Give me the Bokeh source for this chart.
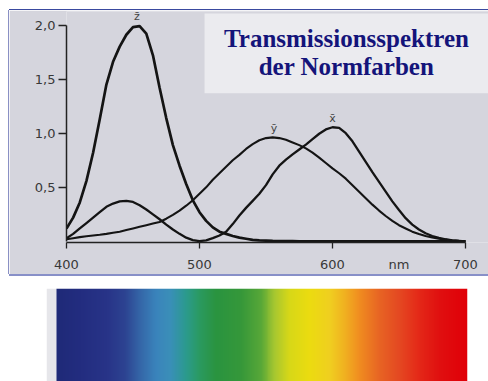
import numpy as np
from bokeh.plotting import figure
from bokeh.layouts import column, row
from bokeh.models import (Range1d, FixedTicker, CustomJSTickFormatter, Label, Spacer,
                          BoxAnnotation)
from bokeh.embed import file_html
from bokeh.resources import INLINE

# ---- data ----
wavelength = list(range(400, 705, 5))

z_bar = [0.12, 0.22, 0.36, 0.56, 0.82, 1.13, 1.45, 1.66, 1.80, 1.91,
         1.98, 1.99, 1.92, 1.72, 1.42, 1.14, 0.89, 0.70, 0.53, 0.38,
         0.27, 0.19, 0.13, 0.09, 0.07, 0.05, 0.035, 0.025, 0.015, 0.01,
         0.008, 0.005, 0.004, 0.003, 0.002, 0.001,
         0, 0, 0, 0, 0, 0, 0, 0, 0, 0, 0, 0, 0, 0, 0, 0, 0, 0, 0, 0,
         0, 0, 0, 0, 0]

x_bar = [0.03, 0.07, 0.12, 0.17, 0.22, 0.27, 0.32, 0.35, 0.37, 0.375,
         0.365, 0.335, 0.295, 0.25, 0.205, 0.155, 0.11, 0.07, 0.035, 0.012,
         0.003, 0.01, 0.03, 0.055, 0.09, 0.16, 0.24, 0.31, 0.375, 0.44,
         0.52, 0.62, 0.70, 0.755, 0.805, 0.85, 0.895, 0.945, 0.995, 1.035,
         1.055, 1.05, 1.0, 0.925, 0.83, 0.735, 0.64, 0.55, 0.46, 0.37,
         0.29, 0.215, 0.155, 0.11, 0.075, 0.05, 0.032, 0.02, 0.01, 0.004,
         0.0]

y_bar = [0.02, 0.03, 0.04, 0.048, 0.055, 0.062, 0.07, 0.08, 0.09, 0.105,
         0.12, 0.135, 0.15, 0.165, 0.18, 0.21, 0.245, 0.285, 0.33, 0.38,
         0.44, 0.50, 0.57, 0.63, 0.69, 0.75, 0.80, 0.855, 0.90, 0.935,
         0.955, 0.962, 0.955, 0.94, 0.915, 0.89, 0.86, 0.82, 0.775, 0.725,
         0.675, 0.63, 0.58, 0.52, 0.46, 0.40, 0.34, 0.285, 0.235, 0.19,
         0.15, 0.12, 0.09, 0.068, 0.05, 0.036, 0.025, 0.016, 0.01, 0.005,
         0.0]

x_ticks = [400, 500, 600, 700]
x_unit_pos = 650
x_unit_label = "nm"
y_ticks = [0.5, 1.0, 1.5, 2.0]

spec_nm = [392.5, 410, 430, 444, 455, 467, 478, 489, 500, 512, 531, 546,
           557, 568, 583, 598, 610, 621, 636, 651, 666, 681, 701.5]
spec_colors = ["#1f2a78", "#232d80", "#283488", "#2d4492", "#3566a8", "#3a84bc",
               "#3a90b8", "#2c9a90", "#2a9a60", "#2a9440", "#36983a", "#58a838",
               "#a8c830", "#d8d818", "#ecdc10", "#f0d020", "#f0b020", "#f08c20",
               "#e86424", "#e44822", "#e42818", "#e01010", "#e00008"]

title_lines = ["Transmissionsspektren", "der Normfarben"]

PANEL = "#d5d5dd"
INK = "#141414"
AXFONT = "DejaVu Sans"

# ---- main chart ----
p = figure(width=479, height=264, output_backend="svg", toolbar_location=None,
           x_range=Range1d(400, 717.3), y_range=Range1d(-0.01, 2.125),
           min_border_left=57, min_border_right=0, min_border_top=1,
           min_border_bottom=23)
p.background_fill_color = PANEL
p.border_fill_color = PANEL
p.outline_line_color = None
p.grid.visible = False

p.line(wavelength, z_bar, line_color=INK, line_width=2.7)
p.line(wavelength, x_bar, line_color=INK, line_width=2.3)
p.line(wavelength, y_bar, line_color=INK, line_width=2.1)

for ax in (p.xaxis[0], p.yaxis[0]):
    ax.axis_line_color = "#222222"
    ax.axis_line_width = 1.5
    ax.major_tick_line_color = "#222222"
    ax.major_tick_line_width = 1.3
    ax.major_tick_in = 0
    ax.minor_tick_line_color = None
    ax.major_label_text_font = AXFONT
    ax.major_label_text_font_size = "13px"
    ax.major_label_text_color = "#383838"

p.xaxis.ticker = FixedTicker(ticks=x_ticks + [x_unit_pos], minor_ticks=x_ticks)
p.xaxis.formatter = CustomJSTickFormatter(
    args=dict(pos=x_unit_pos, unit=x_unit_label),
    code="return tick == pos ? unit : tick.toString();")
p.xaxis.bounds = (400, 700)
p.xaxis.major_tick_line_color = None
p.xaxis.major_tick_out = 0
p.xaxis.minor_tick_line_color = "#222222"
p.xaxis.minor_tick_line_width = 1.3
p.xaxis.minor_tick_in = 0
p.xaxis.minor_tick_out = 6
p.xaxis.major_label_standoff = 8

p.yaxis.ticker = FixedTicker(ticks=y_ticks)
p.yaxis.bounds = (0, 2.0)
p.yaxis.major_tick_out = 8
p.yaxis.major_label_standoff = 3
p.yaxis.formatter = CustomJSTickFormatter(code="return tick.toFixed(1).replace('.', ',');")

for lx, ly, lt in [(453, 2.08, "z\u0304"), (556, 1.04, "y\u0304"), (600, 1.14, "x\u0304")]:
    p.add_layout(Label(x=lx, y=ly, text=lt, text_align="center", text_baseline="middle",
                       text_font=AXFONT, text_font_size="11px", text_color="#444444"))

# title box
p.add_layout(BoxAnnotation(left=503.8, right=717.3, top=2.107, bottom=1.369,
                           fill_color="#ebebef", fill_alpha=1.0, line_color=None))
for ty, tt in zip([1.88, 1.615], title_lines):
    p.add_layout(Label(x=610.5, y=ty, text=tt, text_align="center",
                       text_baseline="alphabetic", text_font="Liberation Serif",
                       text_font_style="bold", text_font_size="25px",
                       text_color="#14147a"))

# ---- spectrum strip ----
s = figure(width=488, height=105, output_backend="svg", toolbar_location=None,
           x_range=Range1d(385, 701.5), y_range=Range1d(0, 1),
           min_border_left=46, min_border_right=21, min_border_top=12,
           min_border_bottom=0)
s.axis.visible = False
s.grid.visible = False
s.outline_line_color = None
s.background_fill_color = "white"
s.border_fill_color = "white"

s.quad(left=385, right=392.5, bottom=0, top=1, fill_color="#e6e6ea", line_color=None)

def hex2rgb(h):
    return [int(h[i:i + 2], 16) for i in (1, 3, 5)]

rgb = np.array([hex2rgb(c) for c in spec_colors], dtype=float)
ncol = 412
xs = np.linspace(spec_nm[0], spec_nm[-1], ncol)
img = np.zeros((1, ncol, 4), dtype=np.uint8)
for k in range(3):
    img[0, :, k] = np.interp(xs, spec_nm, rgb[:, k]).astype(np.uint8)
img[0, :, 3] = 255
img32 = img.view(dtype=np.uint32).reshape((1, ncol))
s.image_rgba(image=[img32], x=spec_nm[0], y=0, dw=spec_nm[-1] - spec_nm[0], dh=1)

layout = column(
    Spacer(width=488, height=9),
    row(Spacer(width=9, height=1),
        Spacer(width=479, height=1, styles={"background-color": "#3a4aa0"})),
    row(Spacer(width=8, height=264),
        Spacer(width=1, height=264, styles={"background-color": "#8a90c4"}),
        p),
    row(Spacer(width=9, height=2),
        Spacer(width=479, height=2, styles={"background-color": "#8890c8"})),
    s,
)
open("out.html", "w").write(file_html(layout, INLINE))
